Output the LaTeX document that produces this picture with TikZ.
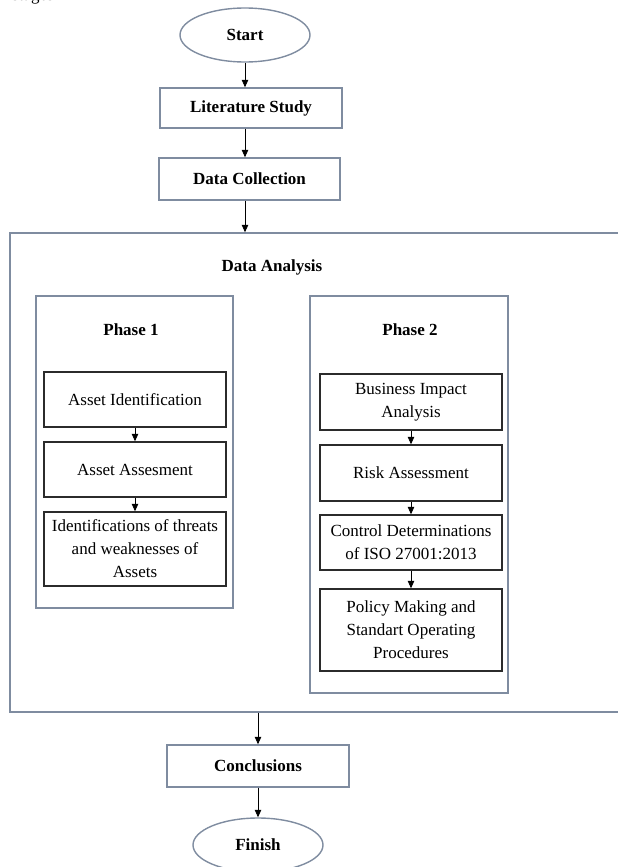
\documentclass[tikz,border=0pt]{standalone}
\usepackage{fontspec}
\setmainfont{Liberation Serif}
\usetikzlibrary{arrows.meta,shapes.geometric}

\definecolor{slate}{HTML}{7F8CA0}
\definecolor{inkbox}{HTML}{2B2B2B}

\tikzset{
  every node/.style={font=\fontsize{17}{23}\selectfont, align=center, inner sep=0pt},
  outerbox/.style={draw=slate, line width=1.4pt, rectangle, font=\fontsize{17}{23}\selectfont\bfseries},
  terminal/.style={draw=slate, line width=1.4pt, ellipse, minimum width=130pt, minimum height=54pt, font=\fontsize{17}{23}\selectfont\bfseries},
  groupbox/.style={draw=slate, line width=1.4pt, rectangle},
  taskbox/.style={draw=inkbox, line width=1.4pt, rectangle, minimum width=182pt},
  heading/.style={font=\fontsize{17}{23}\selectfont\bfseries},
  arr/.style={draw=black, line width=0.7pt, -{Triangle[length=7.5pt,width=6.5pt]}}
}

\begin{document}
\begin{tikzpicture}[x=1pt,y=-1pt]
\useasboundingbox (0,0) rectangle (618,867);
\clip (0,0) rectangle (618,867);

% tail of the preceding caption line
\node[anchor=base west] (capline) at (12,1) {stages};

% main sequence
\node[terminal] (start) at (245,35) {Start};
\node[outerbox, minimum width=182pt, minimum height=40pt] (lit) at (251,108) {Literature Study};
\node[outerbox, minimum width=181pt, minimum height=42pt] (dc) at (249.5,179) {Data Collection};

% data analysis container
\node[groupbox, minimum width=620pt, minimum height=479pt] (outer) at (320,472.5) {};
\node[heading] (datitle) at (272,267) {Data Analysis};

% phase containers
\node[groupbox, minimum width=197pt, minimum height=312pt] (p1) at (134.5,452) {};
\node[groupbox, minimum width=198pt, minimum height=397pt] (p2) at (409,494.5) {};
\node[heading] (p1title) at (131,330) {Phase 1};
\node[heading] (p2title) at (410,330) {Phase 2};

% phase 1 steps
\node[taskbox, minimum height=55pt] (a1) at (135,399.5) {Asset Identification};
\node[taskbox, minimum height=55pt] (a2) at (135,469.5) {Asset Assesment};
\node[taskbox, minimum height=74pt] (a3) at (135,549) {Identifications of threats\\and weaknesses of\\Assets};

% phase 2 steps
\node[taskbox, minimum height=56pt] (b1) at (411,402) {Business Impact\\Analysis};
\node[taskbox, minimum height=56pt] (b2) at (411,473) {Risk Assessment};
\node[taskbox, minimum height=55pt] (b3) at (411,542.5) {Control Determinations\\of ISO 27001:2013};
\node[taskbox, minimum height=82pt] (b4) at (411,630) {Policy Making and\\Standart Operating\\Procedures};

% closing sequence
\node[outerbox, minimum width=182pt, minimum height=42pt] (concl) at (258,766) {Conclusions};
\node[terminal] (finish) at (258,845) {Finish};

% connectors
\draw[arr] (start.south) -- (start.south |- lit.north);
\draw[arr] (start.south |- lit.south) -- (start.south |- dc.north);
\draw[arr] (start.south |- dc.south) -- (start.south |- outer.north);
\draw[arr] (concl.north |- outer.south) -- (concl.north);
\draw[arr] (concl.south) -- (finish.north);

\draw[arr] (a1.south) -- (a2.north);
\draw[arr] (a2.south) -- (a3.north);
\draw[arr] (b1.south) -- (b2.north);
\draw[arr] (b2.south) -- (b3.north);
\draw[arr] (b3.south) -- (b4.north);
\end{tikzpicture}
\end{document}
